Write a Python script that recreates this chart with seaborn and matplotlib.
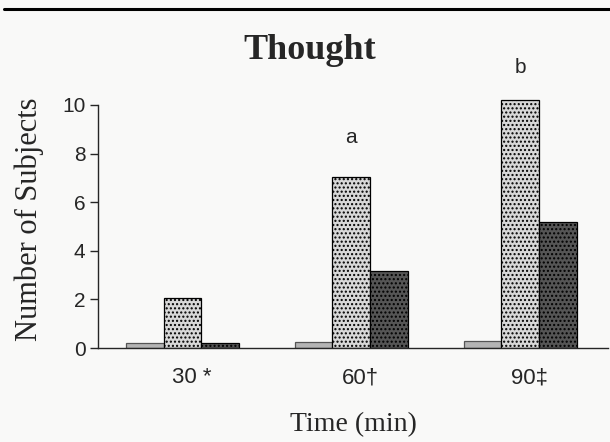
import matplotlib
matplotlib.use("Agg")
import matplotlib.pyplot as plt
import matplotlib.transforms as mtransforms
from matplotlib.lines import Line2D
import pandas as pd
import seaborn as sns

# ============================
# Datos
# ============================
times = ["30", "60", "90"]
tick_labels = ["30 *", "60\u2020", "90\u2021"]
groups = ["g1", "g2", "g3"]
g1_vals = [0.2, 0.25, 0.3]
g2_vals = [2.05, 7.05, 10.2]
g3_vals = [0.2, 3.15, 5.2]
sig_letters = {"60": ("a", 8.65), "90": ("b", 11.55)}

df = pd.DataFrame({
    "time": times * 3,
    "group": [g for g in groups for _ in times],
    "count": g1_vals + g2_vals + g3_vals,
})

# ============================
# Figura
# ============================
sns.set_style("ticks")
plt.rcParams["hatch.linewidth"] = 1.0
bg = "#f9f9f8"

fig = plt.figure(figsize=(6.1, 4.42), dpi=100, facecolor=bg)
ax = fig.add_axes([98 / 610, 1 - 348 / 442, 510 / 610, (348 - 90.4) / 442])
ax.set_facecolor(bg)

palette = ["#b4b4b4", "#d8d8d8", "#555555"]
sns.barplot(data=df, x="time", y="count", hue="group", order=times,
            hue_order=groups, palette=palette, width=0.67,
            edgecolor="black", linewidth=0.9, legend=False, ax=ax)

hatches = [None, "....", "...."]
for cont, h in zip(ax.containers, hatches):
    for bar in cont:
        if h:
            bar.set_hatch(h)
        else:
            bar.set_edgecolor("#555555")

ax.set_xlim(-0.5, 2.52)
ax.set_ylim(0, 10.6)
ax.set_yticks(range(0, 11, 2))
ax.spines["left"].set_bounds(0, 10)
ax.spines["top"].set_visible(False)
ax.spines["right"].set_visible(False)
ax.spines["left"].set_linewidth(1.0)
ax.spines["bottom"].set_linewidth(1.0)

ax.set_xticks(range(len(times)))
ax.set_xticklabels(tick_labels, fontsize=16, family="Liberation Sans")
ax.tick_params(axis="x", length=0, pad=14)
ax.tick_params(axis="y", length=6, width=1, pad=3, labelsize=15)
for lab in ax.get_yticklabels():
    lab.set_family("Liberation Sans")
offset = mtransforms.ScaledTranslation(9 / 100, 0, fig.dpi_scale_trans)
for lab in ax.get_xticklabels():
    lab.set_transform(lab.get_transform() + offset)

ax.set_xlabel("Time (min)", family="Liberation Serif", fontsize=20, labelpad=17)
ax.set_ylabel("Number of Subjects", family="Liberation Serif", fontsize=22,
              labelpad=13)

for t, (letter, yv) in sig_letters.items():
    ax.text(times.index(t), yv, letter, ha="center", va="center",
            fontsize=15, family="Liberation Sans", clip_on=False)

fig.text(310 / 610, 1 - 59 / 442, "Thought", ha="center", va="baseline",
         fontsize=26, fontweight="bold", family="Liberation Serif")

fig.add_artist(Line2D([4 / 610, 1.0], [1 - 8.5 / 442, 1 - 8.5 / 442],
                      color="black", linewidth=2.2,
                      transform=fig.transFigure))

fig.savefig("out.png", dpi=100, facecolor=bg)
